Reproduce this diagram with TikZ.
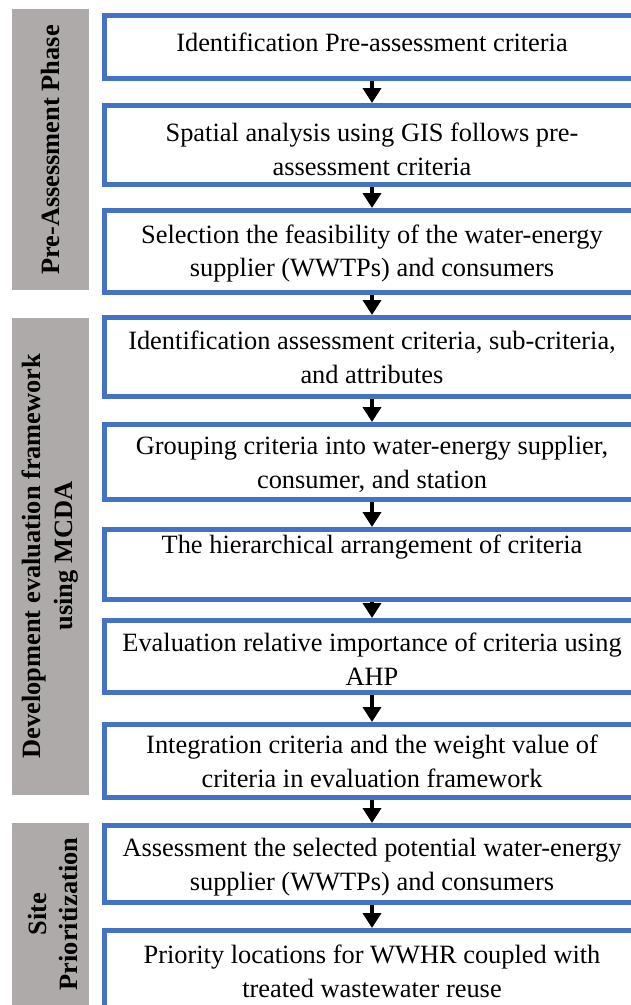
\documentclass[tikz,border=0pt]{standalone}
\usepackage{fontspec}
\setmainfont{Liberation Serif}
\usetikzlibrary{arrows.meta}
\definecolor{boxblue}{HTML}{4472C4}
\definecolor{phasegray}{HTML}{AEAAAA}
\begin{document}
\begin{tikzpicture}[x=1bp,y=-1bp,
  stepbox/.style={draw=boxblue, line width=5bp, minimum width=535bp, inner sep=0pt},
  steptext/.style={align=center, font=\fontsize{26.5}{34}\selectfont, inner sep=0pt},
  phase/.style={fill=phasegray, minimum width=77bp, inner sep=0pt},
  phasetext/.style={rotate=90, align=center, font=\fontsize{26.5}{32}\selectfont\bfseries, inner sep=0pt},
  flow/.style={line width=4bp, -{Triangle[width=18bp,length=15bp]}}]
\useasboundingbox (0,0) rectangle (631,1005);
\clip (0,0) rectangle (631,1005);
\fill[white] (0,0) rectangle (631,1005);

% phase bars on the left
\node[phase, minimum height=281bp] (p1) at (50.5,149.5) {};
\node[phase, minimum height=477bp] (p2) at (50.5,556.5) {};
\node[phase, minimum height=192bp] (p3) at (50.5,919) {};
\node[phasetext] (p1t) at (50.5,150) {Pre-Assessment Phase};
\node[phasetext] (p2t) at (50.5,556) {Development evaluation framework\\using MCDA};
\node[phasetext] (p3t) at (53,914) {Site\\Prioritization};

% step boxes
\node[stepbox, minimum height=63bp] (b1) at (372,47) {};
\node[stepbox, minimum height=79bp] (b2) at (372,145) {};
\node[stepbox, minimum height=82bp] (b3) at (372,251.5) {};
\node[stepbox, minimum height=79bp] (b4) at (372,357) {};
\node[stepbox, minimum height=75bp] (b5) at (372,462) {};
\node[stepbox, minimum height=70bp] (b6) at (372,564.5) {};
\node[stepbox, minimum height=72bp] (b7) at (372,656.5) {};
\node[stepbox, minimum height=73bp] (b8) at (372,761) {};
\node[stepbox, minimum height=77bp] (b9) at (372,864) {};
\node[stepbox, minimum height=79bp] (b10) at (372,970) {};

% step texts
\node[steptext] (t1) at (372,42) {Identification Pre-assessment criteria};
\node[steptext] (t2) at (372,149) {Spatial analysis using GIS follows pre-\\assessment criteria};
\node[steptext] (t3) at (372,253.5) {Selection the feasibility of the water-energy\\supplier (WWTPs) and consumers};
\node[steptext] (t4) at (372,357.5) {Identification assessment criteria, sub-criteria,\\and attributes};
\node[steptext] (t5) at (372,464.5) {Grouping criteria into water-energy supplier,\\consumer, and station};
\node[steptext] (t6) at (372,547) {The hierarchical arrangement of criteria};
\node[steptext] (t7) at (372,659) {Evaluation relative importance of criteria using\\AHP};
\node[steptext] (t8) at (372,761.5) {Integration criteria and the weight value of\\criteria in evaluation framework};
\node[steptext] (t9) at (372,867) {Assessment the selected potential water-energy\\supplier (WWTPs) and consumers};
\node[steptext] (t10) at (372,971.5) {Priority locations for WWHR coupled with\\treated wastewater reuse};

% flow arrows
\foreach \a/\b in {b1/b2,b2/b3,b3/b4,b4/b5,b5/b6,b6/b7,b7/b8,b8/b9,b9/b10}
  \draw[flow] (\a.south) -- (\b.north);
\end{tikzpicture}
\end{document}
